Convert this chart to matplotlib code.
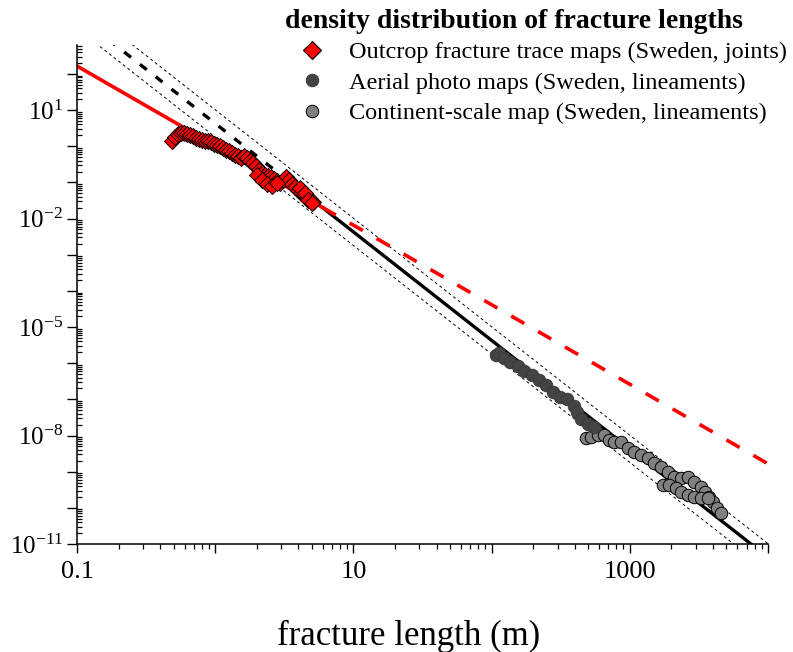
import numpy as np
import matplotlib
matplotlib.use('Agg')
import matplotlib.pyplot as plt
from matplotlib.ticker import FixedLocator, FuncFormatter, NullFormatter
from matplotlib.lines import Line2D

# ── data ───────────────────────────────────────────────
outcrop_len = [0.488, 0.513, 0.540, 0.568, 0.596, 0.627, 0.659, 0.693, 0.728, 0.766,
               0.805, 0.847, 0.890, 0.936, 0.984, 1.03, 1.09, 1.14, 1.20, 1.26,
               1.33, 1.40, 1.47, 1.54, 1.62, 1.71, 1.79, 1.89, 1.98, 2.08,
               2.19, 2.30, 2.42, 2.54, 2.67, 2.81, 2.96, 3.11, 3.27, 3.43,
               3.61, 3.80, 3.99, 4.20, 4.41, 4.64, 4.87, 5.13,
               2.01, 2.19, 2.38, 2.59, 2.81, 4.13, 4.49, 4.72, 5.05]
outcrop_den = [1.38, 1.78, 2.15, 2.30, 2.30, 2.15, 2.02, 1.90, 1.67, 1.56,
               1.47, 1.38, 1.38, 1.29, 1.14, 1.07, 1.00, 0.88, 0.774, 0.726,
               0.640, 0.562, 0.527, 0.464, 0.527, 0.464, 0.383, 0.337, 0.278, 0.215,
               0.178, 0.156, 0.147, 0.138, 0.121, 0.107, 0.094, 0.114, 0.138, 0.114,
               0.088, 0.0726, 0.060, 0.0494, 0.0436, 0.0383, 0.0337, 0.0296,
               0.156, 0.114, 0.088, 0.0774, 0.094, 0.068, 0.0494, 0.0316, 0.0261]

aerial_len = [107, 114, 122, 137, 154, 173, 195, 219, 246, 277, 311, 349, 393,
              413, 442, 496, 548]
aerial_den = [1.68e-6, 1.91e-6, 1.39e-6, 1.08e-6, 8.36e-7, 6.08e-7, 4.71e-7,
              3.43e-7, 2.49e-7, 1.60e-7, 1.16e-7, 1.02e-7, 6.55e-8,
              4.48e-8, 2.86e-8, 2.08e-8, 1.72e-8]

continent_len = [480, 521, 586, 648, 705, 766, 861, 968, 1069, 1202, 1350, 1493,
                 1679, 1885, 2083, 2344, 2630, 2911, 3268, 3493, 3733, 3990, 4266, 4560,
                 1734, 1918, 2155, 2344, 2630, 2911, 3268, 3675]
continent_den = [8.55e-9, 9.1e-9, 1.03e-8, 1.03e-8, 7.5e-9, 6.6e-9, 6.6e-9, 4.5e-9,
                 3.5e-9, 2.9e-9, 2.4e-9, 1.74e-9, 1.35e-9, 9.8e-10, 7.1e-10, 6.7e-10,
                 7.1e-10, 5.2e-10, 3.8e-10, 2.75e-10, 2.0e-10, 1.45e-10, 9.9e-11, 7.2e-11,
                 4.28e-10, 4.28e-10, 3.54e-10, 2.75e-10, 2.27e-10, 2.0e-10, 1.87e-10, 1.87e-10]

# power-law fits (straight lines in log-log), end points
fit_x = [0.1, 6.0, 1e4]
red_fit = [165.0, 0.0202, 1.65e-9]        # ~ L^-2.2
black_fit = [4270.0, 0.0198, 4.27e-12]    # ~ L^-3
band_x = [0.1, 1e4]
band_upper = [1.02e4, 1.02e-11]
band_lower = [1.8e3, 1.8e-12]

labels = ['Outcrop fracture trace maps (Sweden, joints)',
          'Aerial photo maps (Sweden, lineaments)',
          'Continent-scale map (Sweden, lineaments)']
title = 'density distribution of fracture lengths'
# ───────────────────────────────────────────────────────

plt.rcParams['font.family'] = ['Liberation Serif', 'DejaVu Serif']
plt.rcParams['mathtext.fontset'] = 'custom'
plt.rcParams['mathtext.rm'] = 'Liberation Serif'
plt.rcParams['mathtext.it'] = 'Liberation Serif:italic'
plt.rcParams['mathtext.bf'] = 'Liberation Serif:bold'

fig = plt.figure(figsize=(7.93, 6.52), dpi=100)
ax = fig.add_axes([77 / 793, 108 / 652, 691 / 793, 499 / 652])
ax.set_xscale('log')
ax.set_yscale('log')
ax.set_xlim(0.1, 1e4)
ax.set_ylim(1e-11, 630)

# fit lines
ax.plot(band_x, band_upper, color='black', lw=0.7, dashes=(3, 3), zorder=2)
ax.plot(band_x, band_lower, color='black', lw=0.7, dashes=(3, 3), zorder=2)
ax.plot(fit_x[:2], black_fit[:2], color='black', lw=2.4, dashes=(2.6, 3.4), zorder=2)
ax.plot(fit_x[1:], black_fit[1:], color='black', lw=2.4, zorder=2)
ax.plot(fit_x[:2], red_fit[:2], color='red', lw=2.6, zorder=2.5)
ax.plot(fit_x[1:], red_fit[1:], color='red', lw=2.6, dashes=(4.2, 4.4), zorder=2.5)

# data
ax.plot(outcrop_len, outcrop_den, ls='none', marker='D', ms=8.5, mfc='red',
        mec='black', mew=0.7, zorder=3)
ax.plot(continent_len, continent_den, ls='none', marker='o', ms=9, mfc='#808080',
        mec='black', mew=0.7, zorder=3)
ax.plot(aerial_len, aerial_den, ls='none', marker='o', ms=9, mfc='#444444',
        mec='#3a3a3a', mew=0.7, zorder=3.5)

# axes styling
for s in ['top', 'right']:
    ax.spines[s].set_visible(False)
for s in ['left', 'bottom']:
    ax.spines[s].set_linewidth(1.1)

ax.xaxis.set_major_locator(FixedLocator(10.0 ** np.arange(-1, 5)))
ax.xaxis.set_minor_locator(FixedLocator(
    [m * 10.0 ** e for e in range(-1, 4) for m in range(2, 10)]))
ax.xaxis.set_major_formatter(FuncFormatter(
    lambda v, p: {-1: '0.1', 1: '10', 3: '1000'}.get(int(round(np.log10(v))), '')))
ax.xaxis.set_minor_formatter(NullFormatter())

def ylab(v, p):
    e = int(round(np.log10(v)))
    return r'$10^{%d}$' % e if (e - 1) % 3 == 0 else ''

ax.yaxis.set_major_locator(FixedLocator(10.0 ** np.arange(-11, 3)))
ax.yaxis.set_minor_locator(FixedLocator(
    [m * 10.0 ** e for e in range(-11, 3) for m in range(2, 10)]))
ax.yaxis.set_major_formatter(FuncFormatter(ylab))
ax.yaxis.set_minor_formatter(NullFormatter())

ax.tick_params(axis='x', which='major', direction='out', length=6.5, width=1.0,
               labelsize=19, pad=6)
ax.tick_params(axis='x', which='minor', direction='out', length=3.6, width=0.9)
ax.tick_params(axis='y', which='major', direction='out', length=7, width=1.0,
               labelsize=18, pad=3)
ax.tick_params(axis='y', which='minor', direction='in', length=3.6, width=0.9)

ax.set_xlabel('fracture length (m)', fontsize=25)
ax.xaxis.set_label_coords(0.48, -0.152)

# legend + title
handles = [
    Line2D([], [], ls='none', marker='D', ms=9.5, mfc='red', mec='black', mew=0.8),
    Line2D([], [], ls='none', marker='o', ms=9, mfc='#444444', mec='#3a3a3a', mew=0.7),
    Line2D([], [], ls='none', marker='o', ms=9, mfc='#808080', mec='black', mew=0.7),
]
fig.legend(handles, labels, loc='upper left', bbox_to_anchor=(300 / 793, 1 - 41 / 652),
           frameon=False, fontsize=17.5, handlelength=1.0, handletextpad=1.0,
           labelspacing=0.35, borderpad=0, borderaxespad=0)
fig.text(285 / 793, 1 - 28 / 652, title, fontsize=20, fontweight='bold', va='baseline')

fig.savefig('out.png', dpi=100)
